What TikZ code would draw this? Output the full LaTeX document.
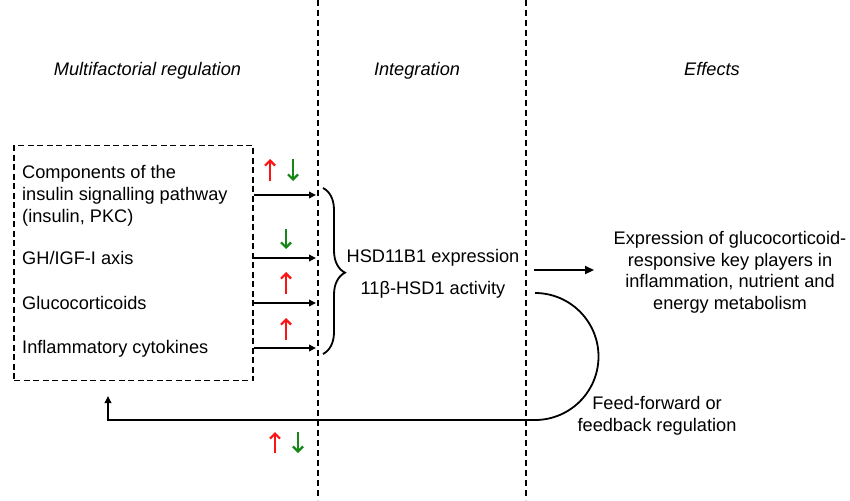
\documentclass[tikz,border=0pt]{standalone}
\usepackage{fontspec}
\setmainfont{Liberation Sans}
\usetikzlibrary{arrows.meta,decorations.pathreplacing}
\definecolor{upred}{RGB}{250,20,20}
\definecolor{dngreen}{RGB}{20,135,20}
\begin{document}
\begin{tikzpicture}[x=1pt,y=-1pt,
  every node/.style={inner sep=0pt, font=\fontsize{18.2}{21.8}\selectfont},
  lbl/.style={anchor=base west},
  hdr/.style={anchor=base, font=\fontsize{18.2}{21.8}\selectfont\itshape},
  sep/.style={line width=1.4pt, dash pattern=on 6pt off 4pt},
  arr/.style={line width=1.8pt, -{Triangle[length=7pt,width=6.5pt]}},
  bigarr/.style={line width=2.2pt, -{Triangle[length=9pt,width=8pt]}},
  uparr/.style={upred, line width=2.2pt, -{Straight Barb[length=5pt,width=10pt]}},
  dnarr/.style={dngreen, line width=2.2pt, -{Straight Barb[length=5pt,width=10pt]}}]
\useasboundingbox (0,0) rectangle (850,500);

% separators
\coordinate (s1t) at (318,0); \coordinate (s1b) at (318,500);
\coordinate (s2t) at (526,0); \coordinate (s2b) at (526,500);
\draw[sep] (s1t) -- (s1b);
\draw[sep] (s2t) -- (s2b);

% headers
\node[hdr] (h1) at (147.5,76) {Multifactorial regulation};
\node[hdr] (h2) at (417,76) {Integration};
\node[hdr] (h3) at (712,76) {Effects};

% dashed box
\node[draw, line width=1.6pt, dash pattern=on 6pt off 3.5pt, minimum width=239pt, minimum height=235pt] (regbox) at (133.5,263) {};

% factors
\node[align=left, anchor=north west] (c1) at (22,165.5) {Components of the\\insulin signalling pathway\\(insulin, PKC)};
\node[lbl] (c2) at (22,264.5) {GH/IGF-I axis};
\node[lbl] (c3) at (22,309.5) {Glucocorticoids};
\node[lbl] (c4) at (22,353.5) {Inflammatory cytokines};

\coordinate (e1) at (316,195);
\coordinate (e2) at (316,258);
\coordinate (e3) at (316,303);
\coordinate (e4) at (316,348);
\draw[arr] (regbox.east |- e1) -- (e1);
\draw[arr] (regbox.east |- e2) -- (e2);
\draw[arr] (regbox.east |- e3) -- (e3);
\draw[arr] (regbox.east |- e4) -- (e4);

% up/down markers
\draw[uparr] (270,181) -- (270,159);
\draw[dnarr] (293,159) -- (293,181);
\draw[dnarr] (286,229) -- (286,249);
\draw[uparr] (286,294) -- (286,272);
\draw[uparr] (286,340) -- (286,318);

% brace
\coordinate (bt) at (323,188);
\coordinate (bb) at (323,354);
\draw[line width=1.8pt, decorate, decoration={brace, amplitude=22pt, aspect=0.51}] (bt) -- (bb);

% integration
\node[anchor=base] (hsd) at (433,262.5) {HSD11B1 expression};
\node[anchor=base] (act) at (433,294.5) {11β-HSD1 activity};

% effects
\node[align=center, anchor=north] (eff) at (730,231) {Expression of glucocorticoid-\\responsive key players in\\inflammation, nutrient and\\energy metabolism};
\coordinate (o1) at (534,270);
\coordinate (o2) at (594,270);
\draw[bigarr] (o1) -- (o2);

% feedback loop
\coordinate (la) at (535,293);
\coordinate (fbend) at (108,420);
\coordinate (fbtip) at (108,396);
\draw[line width=1.8pt, -{Triangle[length=7pt,width=6.5pt]}] (la) arc[start angle=-90, end angle=90, radius=63.5] -- (fbend) -- (fbtip);
\node[align=center, anchor=north] (fb) at (657,396.5) {Feed-forward or\\feedback regulation};

\draw[uparr] (275,453) -- (275,432);
\draw[dnarr] (298,432) -- (298,453);
\end{tikzpicture}
\end{document}
